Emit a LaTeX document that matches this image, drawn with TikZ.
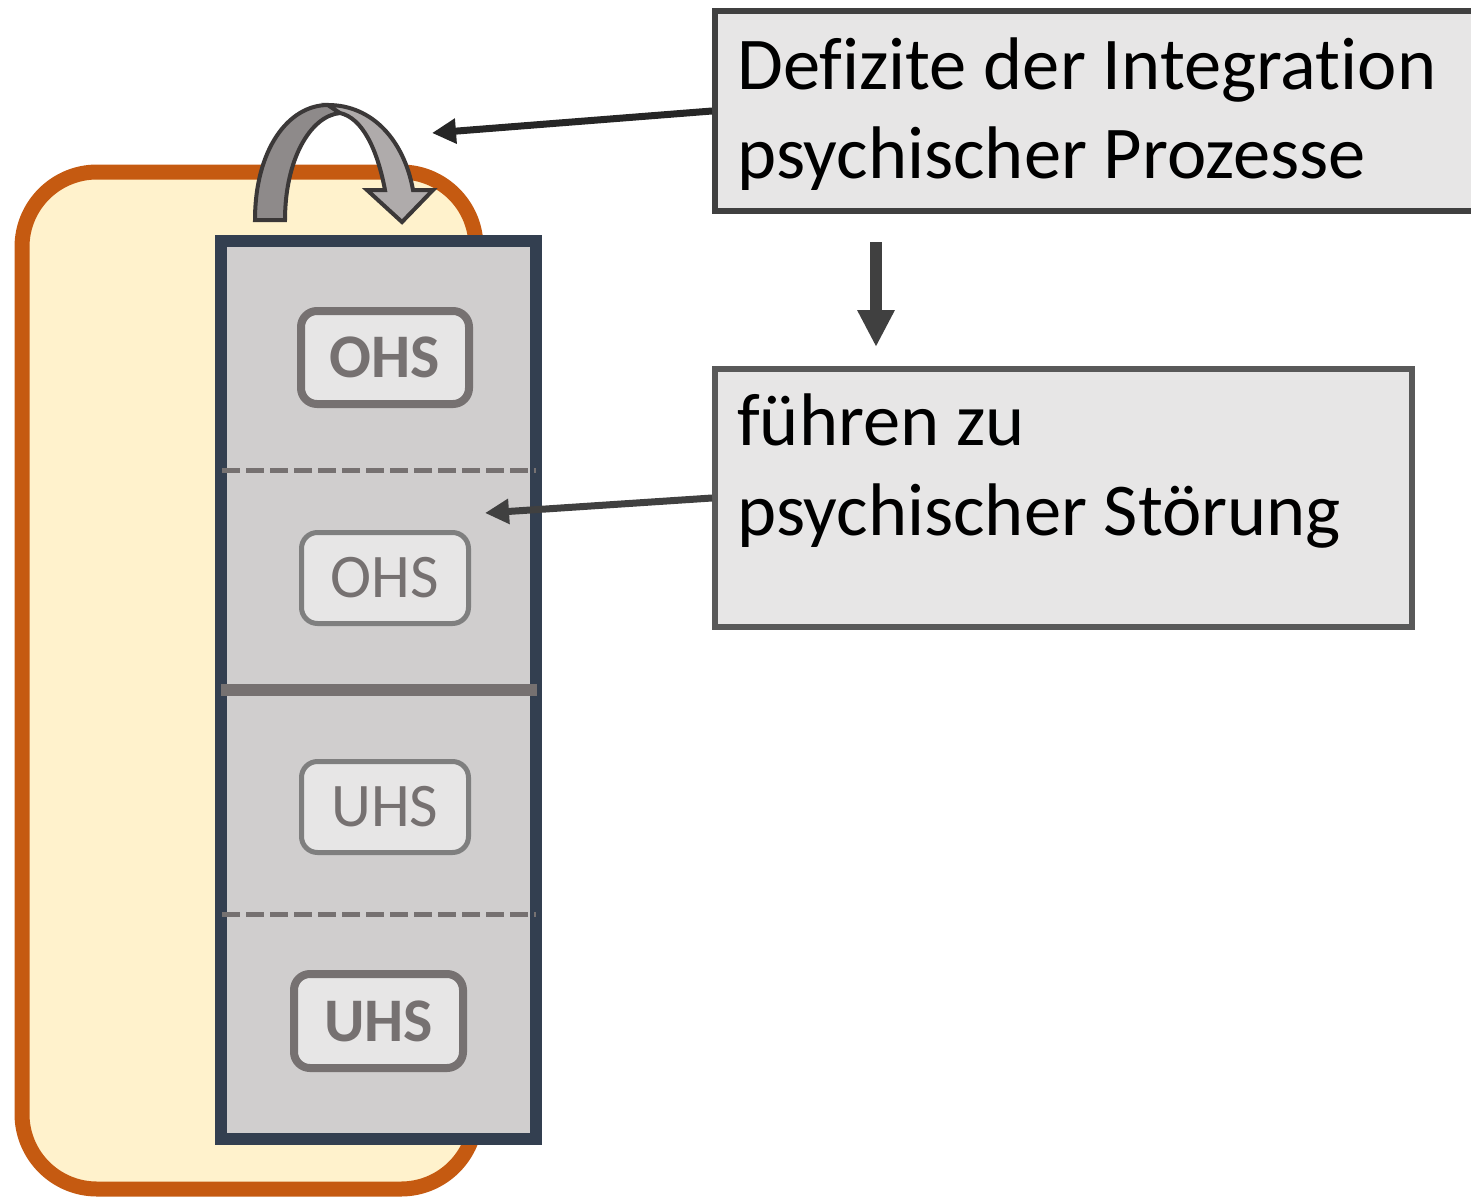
\documentclass[tikz,border=0pt]{standalone}
\usepackage{fontspec}
\setmainfont{Carlito}[Ligatures=NoCommon]
\usetikzlibrary{arrows.meta}
\definecolor{orng}{HTML}{C55A11}
\definecolor{cream}{HTML}{FFF2CC}
\definecolor{slate}{HTML}{333F50}
\definecolor{colgray}{HTML}{D0CECE}
\definecolor{boxgray}{HTML}{767171}
\definecolor{lightfill}{HTML}{E7E6E6}
\definecolor{thingray}{HTML}{7F7F7F}
\definecolor{darkarr}{HTML}{262626}
\definecolor{midarr}{HTML}{404040}
\definecolor{boxtwo}{HTML}{595959}
\definecolor{bandA}{HTML}{8E8A8A}
\definecolor{bandB}{HTML}{AFABAB}
\definecolor{outl}{HTML}{3B3838}
\tikzset{
  hsbold/.style={draw=boxgray, fill=lightfill, line width=8pt, rounded corners=16pt,
    minimum width=168pt, minimum height=93pt, inner sep=0pt, text=boxgray,
    font=\fontsize{62}{62}\selectfont\bfseries},
  hsthin/.style={draw=thingray, fill=lightfill, line width=5pt, rounded corners=16pt,
    minimum width=167pt, minimum height=91pt, inner sep=0pt, text=boxgray,
    font=\fontsize{62}{62}\selectfont},
  txtbox/.style={fill=lightfill, line width=6pt, inner sep=0pt, anchor=north west},
  txt/.style={anchor=base west, inner sep=0pt, font=\fontsize{74.5}{88}\selectfont},
  arrthin/.style={line width=7pt, -{Triangle[length=24pt,width=24pt]}},
  arrthick/.style={line width=12pt, -{Triangle[length=37pt,width=35pt]}},
}
\begin{document}
\begin{tikzpicture}[x=1pt,y=-1pt]
\useasboundingbox (0,0) rectangle (1471,1196);
% orange rounded frame
\draw[draw=orng, fill=cream, line width=15pt, rounded corners=75pt] (22,172) rectangle (476,1189);
% column
\fill[colgray] (221,241) rectangle (536,1139);
\draw[slate, line width=12pt] (221,241) rectangle (536,1139);
\draw[boxgray, line width=5pt, dash pattern=on 18pt off 6pt] (222,470) -- (536,470);
\draw[boxgray, line width=5pt, dash pattern=on 18pt off 6pt] (222,914) -- (536,914);
\draw[boxgray, line width=12pt] (221,690) -- (537,690);
% HS boxes
\node[hsbold] (ohs1) at (385,357.5) {OHS};
\node[hsthin] (ohs2) at (385,578) {OHS};
\node[hsthin] (uhs1) at (385,807) {UHS};
\node[hsbold, minimum width=169pt, minimum height=94pt] (uhs2) at (378.5,1021) {UHS};
% curved arrow
\draw[fill=bandA, draw=outl, line width=4pt, line join=miter]
  (255,220) .. controls (255,150) and (288,105) .. (328,105) -- (340,113)
  .. controls (310,116) and (285,160) .. (285,220) -- cycle;
\draw[fill=bandB, draw=outl, line width=4pt, line join=miter]
  (328,105) .. controls (372,105) and (404,140) .. (413,190) -- (433,190) -- (402,222)
  -- (367,190) -- (385,190) .. controls (377,148) and (362,118) .. (340,113) -- cycle;
% text boxes
\node[txtbox, draw=midarr, minimum width=790pt, minimum height=200pt] (b1) at (712,8) {};
\node[txt] (t1a) at (737,90) {Defizite der Integration};
\node[txt] (t1b) at (737,178) {psychischer Prozesse};
\node[txtbox, draw=boxtwo, minimum width=697pt, minimum height=258pt] (b2) at (712,366) {};
\node[txt] (t2a) at (737,445) {führen zu};
\node[txt] (t2b) at (737,535) {psychischer Störung};
% connectors
\coordinate (loopend) at (432,133);
\coordinate (colend) at (485,513);
\coordinate (dtop) at (876,242);
\coordinate (dbot) at (876,347);
\draw[arrthin, darkarr] (b1.west) -- (loopend);
\draw[arrthin, midarr] (b2.west) -- (colend);
\draw[arrthick, midarr] (dtop) -- (dbot);
\end{tikzpicture}
\end{document}
